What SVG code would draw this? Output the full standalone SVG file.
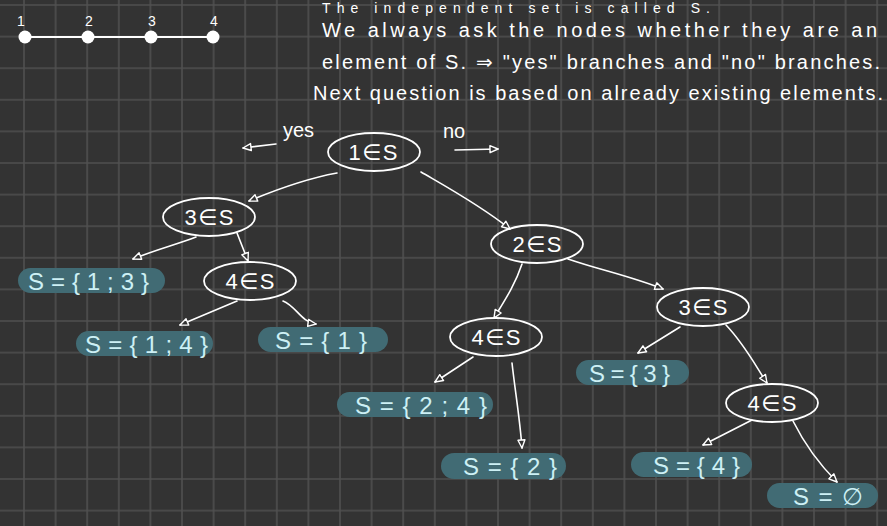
<svg xmlns="http://www.w3.org/2000/svg" width="887" height="526" viewBox="0 0 887 526">
<defs>
<pattern id="grid" x="8.2" y="-10.8" width="31.6" height="31.6" patternUnits="userSpaceOnUse">
<path d="M15.8,0 V31.6 M0,15.8 H31.6" stroke="#505050" stroke-width="1.6" fill="none"/>
</pattern>
<marker id="arr" viewBox="0 0 10 10" refX="9" refY="5" markerWidth="10" markerHeight="10" markerUnits="userSpaceOnUse" orient="auto">
<path d="M1,1.5 L9,5 L1,8.5 Z" fill="#333" stroke="#fff" stroke-width="1.4" stroke-linejoin="round"/>
</marker>
<style>
.note{font-family:"Liberation Sans","DejaVu Sans",sans-serif;font-size:20px;fill:#fff}
.q ellipse{fill:none;stroke:#fff;stroke-width:1.8}
.q text{font-family:"Liberation Sans","DejaVu Sans",sans-serif;font-size:22px;fill:#fff;text-anchor:middle}
.leaf rect{fill:#416b74}
.leaf text{font-family:"Liberation Sans","DejaVu Sans",sans-serif;font-size:24px;fill:#cdf0f5}
.edges path{fill:none;stroke:#fff;stroke-width:1.6;stroke-linecap:round;marker-end:url(#arr)}
.lbl{font-family:"Liberation Sans","DejaVu Sans",sans-serif;font-size:20px;fill:#fff}
</style>
</defs>
<rect width="887" height="526" fill="#333333"/>
<rect width="887" height="526" fill="url(#grid)"/>

<g id="note">
<text class="note" style="font-size:14px" x="322" y="13" textLength="388" lengthAdjust="spacing">The independent set is called S.</text>
<text class="note" x="322" y="37" textLength="555" lengthAdjust="spacing">We always ask the nodes whether they are an</text>
<text class="note" x="322" y="69" textLength="558" lengthAdjust="spacing">element of S. ⇒ "yes" branches and "no" branches.</text>
<text class="note" x="313" y="100" textLength="570" lengthAdjust="spacing">Next question is based on already existing elements.</text>
</g>

<g id="path-graph">
<line x1="25" y1="37" x2="213" y2="37" stroke="#fff" stroke-width="2"/>
<circle cx="25" cy="37" r="6.5" fill="#fff"/>
<circle cx="88" cy="37" r="6.5" fill="#fff"/>
<circle cx="151" cy="37" r="6.5" fill="#fff"/>
<circle cx="213" cy="37" r="6.5" fill="#fff"/>
<text class="lbl" style="font-size:14px" x="17" y="26">1</text>
<text class="lbl" style="font-size:14px" x="85" y="26">2</text>
<text class="lbl" style="font-size:14px" x="148" y="26">3</text>
<text class="lbl" style="font-size:14px" x="210" y="26">4</text>
</g>

<g id="yes-no">
<text class="lbl" x="283" y="137">yes</text>
<text class="lbl" x="443" y="138">no</text>
</g>

<g class="edges" id="connectors">
<path d="M276,144 L243,148"/>
<path d="M455,150 L498,149"/>
<path d="M337,173 C310,178 280,188 249,201"/>
<path d="M421,172 C445,186 480,205 510,229"/>
<path d="M196,237 C175,245 155,250 133,259"/>
<path d="M237,233 L248,261"/>
<path d="M237,301 L180,325"/>
<path d="M283,301 C296,306 301,322 316,324"/>
<path d="M522,264 C515,285 505,300 494,318"/>
<path d="M568,259 C600,270 630,276 663,289"/>
<path d="M473,357 L435,382"/>
<path d="M512,363 C515,390 520,420 522,448"/>
<path d="M680,327 L638,353"/>
<path d="M726,325 C745,345 755,365 767,383"/>
<path d="M752,420 L703,445"/>
<path d="M793,421 C805,445 820,465 837,482"/>
</g>

<g class="q" id="q1"><ellipse cx="374" cy="152" rx="46" ry="19"/><text x="373" y="160" textLength="49">1∈S</text></g>
<g class="q" id="q3a"><ellipse cx="209" cy="217" rx="46" ry="19"/><text x="209" y="225" textLength="49">3∈S</text></g>
<g class="q" id="q4a"><ellipse cx="250" cy="281" rx="46" ry="19"/><text x="250" y="289" textLength="49">4∈S</text></g>
<g class="q" id="q2"><ellipse cx="537" cy="244" rx="46" ry="19"/><text x="537" y="252" textLength="49">2∈S</text></g>
<g class="q" id="q4b"><ellipse cx="496" cy="337" rx="46" ry="19"/><text x="496" y="345" textLength="49">4∈S</text></g>
<g class="q" id="q3b"><ellipse cx="703" cy="307" rx="46" ry="19"/><text x="703" y="315" textLength="49">3∈S</text></g>
<g class="q" id="q4c"><ellipse cx="772" cy="403" rx="46" ry="19"/><text x="772" y="411" textLength="49">4∈S</text></g>

<g class="leaf" id="s13"><rect x="18" y="268" width="147" height="25" rx="12.5"/><text x="28" y="290" textLength="121">S={1;3}</text></g>
<g class="leaf" id="s14"><rect x="76" y="331" width="137" height="25" rx="12.5"/><text x="85" y="353" textLength="123">S={1;4}</text></g>
<g class="leaf" id="s1"><rect x="258" y="327" width="130" height="25" rx="12.5"/><text x="275" y="349" textLength="92">S={1}</text></g>
<g class="leaf" id="s24"><rect x="337" y="392" width="156" height="25" rx="12.5"/><text x="355" y="414" textLength="132">S={2;4}</text></g>
<g class="leaf" id="s2"><rect x="441" y="453" width="125" height="26" rx="13"/><text x="463" y="475" textLength="94">S={2}</text></g>
<g class="leaf" id="s3"><rect x="576" y="360" width="113" height="25" rx="12.5"/><text x="589" y="382" textLength="81">S={3}</text></g>
<g class="leaf" id="s4"><rect x="631" y="452" width="121" height="25" rx="12.5"/><text x="653" y="474" textLength="87">S={4}</text></g>
<g class="leaf" id="sempty"><rect x="767" y="483" width="111" height="25" rx="12.5"/><text x="793" y="505" textLength="70">S=∅</text></g>
</svg>
